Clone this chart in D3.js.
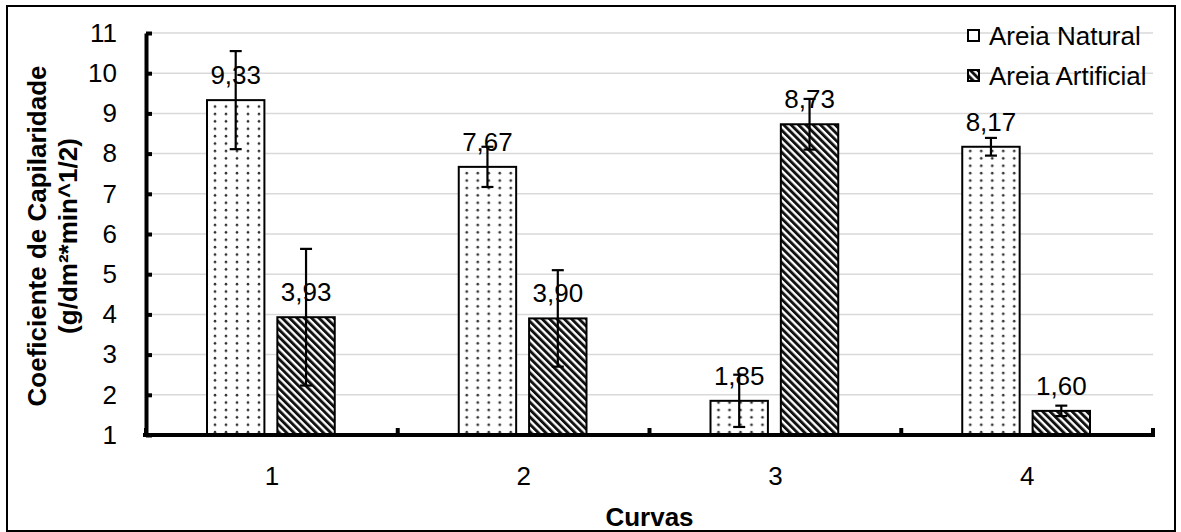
<!DOCTYPE html>
<html>
<head>
<meta charset="utf-8">
<script src="https://cdn.jsdelivr.net/npm/d3@7"></script>
<style>
  html, body { margin: 0; padding: 0; background: #fff; }
  svg text { font-family: "Liberation Sans", Arial, sans-serif; fill: #000; }
</style>
</head>
<body>
<svg id="chart" width="1181" height="532"></svg>
<script>
// Capillarity coefficient per curve, natural vs artificial sand
const categories = ["1", "2", "3", "4"];
const seriesNames = ["Areia Natural", "Areia Artificial"];
const naturalValues = [9.33, 7.67, 1.85, 8.17];
const artificialValues = [3.93, 3.90, 8.73, 1.60];
const naturalErrors = [1.22, 0.50, 0.65, 0.22];
const artificialErrors = [1.70, 1.20, 0.63, 0.13];
const yTicks = [1, 2, 3, 4, 5, 6, 7, 8, 9, 10, 11];

const fmt = v => v.toFixed(2).replace(".", ",");
const FS = 26;

const svg = d3.select("#chart");

// plot region
const plotLeft = 146, plotRight = 1153, plotTop = 33, plotBottom = 435;

const defs = svg.append("defs");
// dotted fill
const dots = defs.append("pattern")
  .attr("id", "dots").attr("patternUnits", "userSpaceOnUse")
  .attr("width", 11).attr("height", 7.4);
dots.append("rect").attr("width", 11).attr("height", 7.4).attr("fill", "#fff");
dots.append("circle").attr("cx", 3).attr("cy", 3).attr("r", 1.3).attr("fill", "#333");
// wide downward diagonal fill
const stripes = defs.append("pattern")
  .attr("id", "stripes").attr("patternUnits", "userSpaceOnUse")
  .attr("width", 5.2).attr("height", 5.2)
  .attr("patternTransform", "rotate(-45)");
stripes.append("rect").attr("width", 5.2).attr("height", 5.2).attr("fill", "#fff");
stripes.append("rect").attr("width", 2.9).attr("height", 5.2).attr("fill", "#111");

const fills = ["url(#dots)", "url(#stripes)"];

// outer frame
svg.append("rect")
  .attr("x", 7).attr("y", 6).attr("width", 1168).attr("height", 525)
  .attr("fill", "none").attr("stroke", "#000").attr("stroke-width", 2);

const y = d3.scaleLinear().domain([1, 11]).range([plotBottom, plotTop]);
const x = d3.scaleBand().domain(categories).range([plotLeft, plotRight]).padding(0);
const bw = x.bandwidth();
const xs = d3.scaleBand().domain(seriesNames)
  .range([61, bw - 63]).paddingInner(0.184);

// gridlines
svg.append("g").selectAll("line")
  .data(yTicks.slice(1))
  .join("line")
  .attr("x1", plotLeft).attr("x2", plotRight)
  .attr("y1", d => y(d)).attr("y2", d => y(d))
  .attr("stroke", "#d9d9d9").attr("stroke-width", 1.5);

// y axis
const yAxis = d3.axisLeft(y).tickValues(yTicks).tickFormat(d3.format("d"))
  .tickSizeInner(-6).tickSizeOuter(0).tickPadding(29);
const gy = svg.append("g").attr("transform", `translate(${plotLeft},0)`).call(yAxis);
gy.select(".domain").attr("stroke", "#000").attr("stroke-width", 4);
gy.selectAll(".tick line").attr("stroke", "#000").attr("stroke-width", 4);
gy.selectAll(".tick text").attr("font-size", FS)
  .attr("font-family", "'Liberation Sans', Arial, sans-serif");

// bars
const rows = categories.map((c, i) => ({
  cat: c,
  vals: [
    { s: seriesNames[0], v: naturalValues[i], e: naturalErrors[i], k: 0 },
    { s: seriesNames[1], v: artificialValues[i], e: artificialErrors[i], k: 1 }
  ]
}));

const groups = svg.append("g").selectAll("g")
  .data(rows).join("g")
  .attr("transform", d => `translate(${x(d.cat)},0)`);

groups.selectAll("rect")
  .data(d => d.vals).join("rect")
  .attr("x", d => xs(d.s))
  .attr("width", xs.bandwidth())
  .attr("y", d => y(d.v))
  .attr("height", d => y(1) - y(d.v))
  .attr("fill", d => fills[d.k])
  .attr("stroke", "#000").attr("stroke-width", 2);

// value labels
groups.selectAll("text.val")
  .data(d => d.vals).join("text")
  .attr("class", "val")
  .attr("x", d => xs(d.s) + xs.bandwidth() / 2)
  .attr("y", d => y(d.v) - 16)
  .attr("text-anchor", "middle")
  .attr("font-size", FS)
  .text(d => fmt(d.v));

// error bars
const eb = groups.selectAll("g.err")
  .data(d => d.vals).join("g").attr("class", "err")
  .attr("transform", d => `translate(${xs(d.s) + xs.bandwidth() / 2},0)`);
eb.append("line")
  .attr("y1", d => y(d.v + d.e)).attr("y2", d => y(d.v - d.e))
  .attr("stroke", "#000").attr("stroke-width", 2.2);
eb.selectAll("line.cap")
  .data(d => [d.v + d.e, d.v - d.e]).join("line").attr("class", "cap")
  .attr("x1", -6).attr("x2", 6)
  .attr("y1", d => y(d)).attr("y2", d => y(d))
  .attr("stroke", "#000").attr("stroke-width", 2.2);

// x axis
svg.append("line")
  .attr("x1", plotLeft - 3).attr("x2", plotRight + 2)
  .attr("y1", plotBottom).attr("y2", plotBottom)
  .attr("stroke", "#000").attr("stroke-width", 4);
const bounds = categories.map(c => x(c)).concat([plotRight]);
svg.append("g").selectAll("line")
  .data(bounds).join("line")
  .attr("x1", d => d).attr("x2", d => d)
  .attr("y1", plotBottom).attr("y2", plotBottom - 7)
  .attr("stroke", "#000").attr("stroke-width", 4);
svg.append("g").selectAll("text")
  .data(categories).join("text")
  .attr("x", d => x(d) + bw / 2)
  .attr("y", 485)
  .attr("text-anchor", "middle")
  .attr("font-size", FS)
  .text(d => d);

// axis titles
svg.append("text")
  .attr("x", (plotLeft + plotRight) / 2).attr("y", 526)
  .attr("text-anchor", "middle")
  .attr("font-size", FS).attr("font-weight", "bold")
  .text("Curvas");
const yt = svg.append("text")
  .attr("transform", `translate(0,${(plotTop + plotBottom) / 2 + 2}) rotate(-90)`)
  .attr("text-anchor", "middle")
  .attr("font-size", FS).attr("font-weight", "bold");
yt.append("tspan").attr("x", 0).attr("y", 46).text("Coeficiente de Capilaridade");
yt.append("tspan").attr("x", 0).attr("y", 77).text("(g/dm²*min^1/2)");

// legend
const legend = svg.append("g").selectAll("g")
  .data(seriesNames).join("g")
  .attr("transform", (d, i) => `translate(968,${30 + i * 40})`);
legend.append("rect")
  .attr("width", 11).attr("height", 11)
  .attr("fill", (d, i) => i === 0 ? "#fff" : "url(#stripes)")
  .attr("stroke", "#000").attr("stroke-width", 2);
legend.append("text")
  .attr("x", 21).attr("y", 15)
  .attr("font-size", FS)
  .text(d => d);
</script>
</body>
</html>
